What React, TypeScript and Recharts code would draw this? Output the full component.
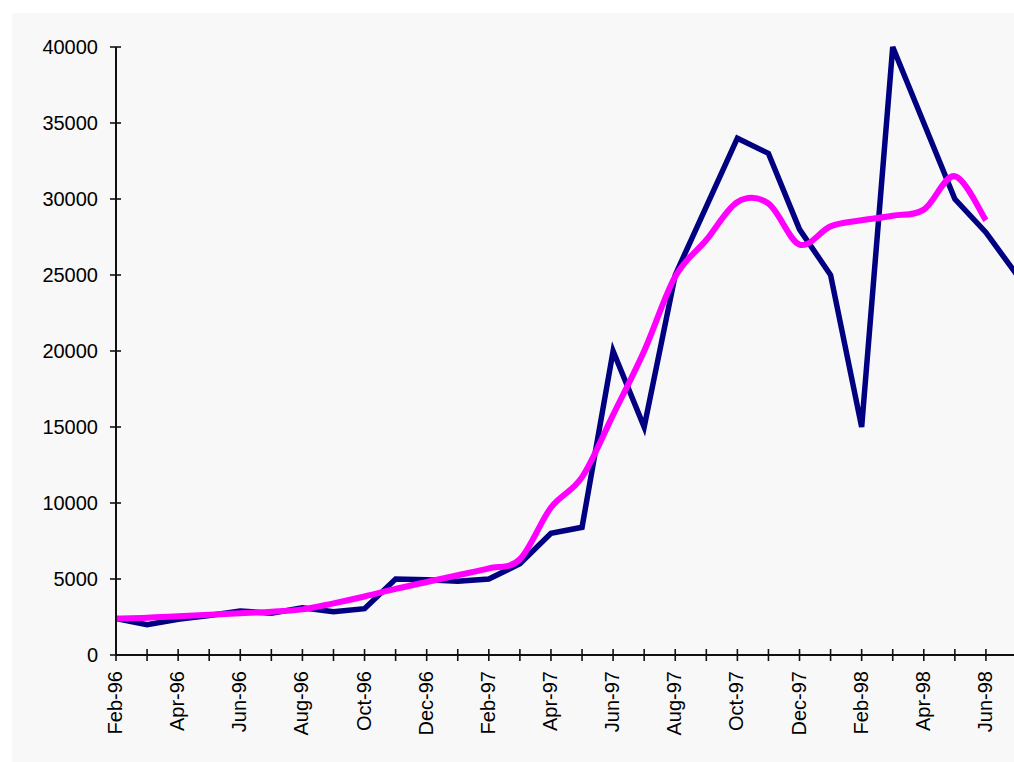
import React from 'react';
import { LineChart, Line, XAxis, YAxis } from 'recharts';

const months = [
  'Feb-96', 'Mar-96', 'Apr-96', 'May-96', 'Jun-96', 'Jul-96', 'Aug-96', 'Sep-96', 'Oct-96', 'Nov-96',
  'Dec-96', 'Jan-97', 'Feb-97', 'Mar-97', 'Apr-97', 'May-97', 'Jun-97', 'Jul-97', 'Aug-97', 'Sep-97',
  'Oct-97', 'Nov-97', 'Dec-97', 'Jan-98', 'Feb-98', 'Mar-98', 'Apr-98', 'May-98', 'Jun-98', 'Jul-98',
];

const actual = [
  2400, 2000, 2350, 2600, 2900, 2750, 3100, 2850, 3050, 5000,
  4950, 4850, 5000, 6000, 8000, 8400, 20000, 15000, 25000, 29500,
  34000, 33000, 28000, 25000, 15000, 40000, 35000, 30000, 27800, 25000,
];

const trend: (number | null)[] = [
  2400, 2450, 2550, 2650, 2750, 2850, 3000, 3400, 3850, 4350,
  4800, 5250, 5700, 6300, 9700, 11700, 15800, 20000, 24900, 27300,
  29800, 29700, 27000, 28200, 28600, 28900, 29300, 31500, 28600, null,
];

const yTicks = [0, 5000, 10000, 15000, 20000, 25000, 30000, 35000, 40000];

const data = months.map((m, i) => ({ month: m, actual: actual[i], trend: trend[i] }));

const FONT = '"Liberation Sans", Arial, sans-serif';

// Excel-like smoothed line (Catmull-Rom through the points)
function smoothCurve(context: any) {
  let pts: [number, number][] = [];
  return {
    areaStart() {},
    areaEnd() {},
    lineStart() {
      pts = [];
    },
    lineEnd() {
      const n = pts.length;
      if (n === 0) return;
      context.moveTo(pts[0][0], pts[0][1]);
      for (let i = 0; i < n - 1; i++) {
        const p0 = pts[i - 1] || pts[i];
        const p1 = pts[i];
        const p2 = pts[i + 1];
        const p3 = pts[i + 2] || p2;
        context.bezierCurveTo(
          p1[0] + (p2[0] - p0[0]) / 6,
          p1[1] + (p2[1] - p0[1]) / 6,
          p2[0] - (p3[0] - p1[0]) / 6,
          p2[1] - (p3[1] - p1[1]) / 6,
          p2[0],
          p2[1]
        );
      }
    },
    point(x: number, y: number) {
      pts.push([+x, +y]);
    },
  };
}

const XTick = (props: any) => {
  const { x, y, payload, index } = props;
  return (
    <g>
      <line x1={x} x2={x} y1={y - 6} y2={y + 6} stroke="#111" strokeWidth={1.6} />
      {index % 2 === 0 && (
        <text
          x={0}
          y={0}
          transform={`translate(${x + 6}, ${y + 16}) rotate(-90)`}
          textAnchor="end"
          fontFamily={FONT}
          fontSize={20}
          fill="#000"
        >
          {payload.value}
        </text>
      )}
    </g>
  );
};

const YTick = (props: any) => {
  const { x, y, payload } = props;
  return (
    <g>
      <line x1={x - 6} x2={x + 5} y1={y} y2={y} stroke="#111" strokeWidth={1.6} />
      <text
        x={x - 18}
        y={y}
        textAnchor="end"
        dominantBaseline="central"
        fontFamily={FONT}
        fontSize={20}
        fill="#000"
      >
        {payload.value}
      </text>
    </g>
  );
};

export default function App() {
  return (
    <div
      style={{
        position: 'fixed',
        left: 0,
        top: 0,
        width: 1014,
        height: 762,
        overflow: 'hidden',
        background: '#ffffff',
      }}
    >
      <div
        style={{
          position: 'absolute',
          left: 12,
          top: 13,
          width: 1010,
          height: 749,
          background: '#f8f8f8',
        }}
      >
        <LineChart
          width={1010}
          height={749}
          data={data}
          margin={{ top: 34, right: 5, left: 0, bottom: 0 }}
        >
          <XAxis
            dataKey="month"
            interval={0}
            height={107}
            tickSize={0}
            tickMargin={0}
            tickLine={false}
            axisLine={{ stroke: '#111', strokeWidth: 2 }}
            tick={<XTick />}
          />
          <YAxis
            type="number"
            domain={[0, 40000]}
            ticks={yTicks}
            interval={0}
            width={104}
            tickSize={0}
            tickMargin={0}
            tickLine={false}
            axisLine={{ stroke: '#111', strokeWidth: 2 }}
            tick={<YTick />}
          />
          <Line
            dataKey="actual"
            type="linear"
            stroke="#000080"
            strokeWidth={5.5}
            dot={false}
            activeDot={false}
            isAnimationActive={false}
            strokeLinejoin="miter"
          />
          <Line
            dataKey="trend"
            type={smoothCurve as any}
            stroke="#ff00ff"
            strokeWidth={6}
            dot={false}
            activeDot={false}
            isAnimationActive={false}
          />
        </LineChart>
      </div>
    </div>
  );
}
